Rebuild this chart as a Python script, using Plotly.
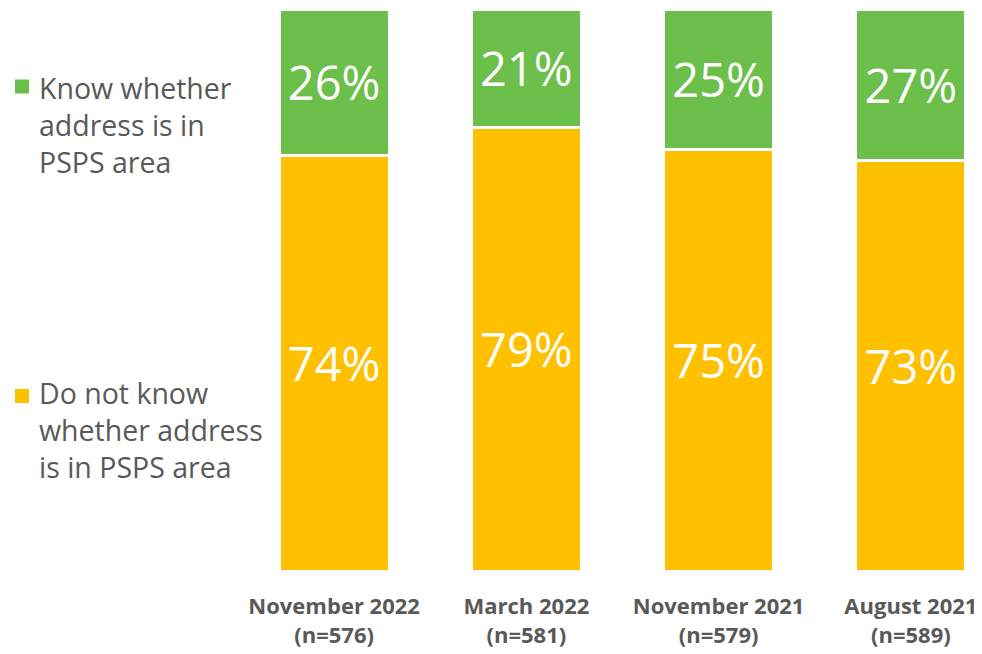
import plotly.graph_objects as go

periods = ["November 2022", "March 2022", "November 2021", "August 2021"]
sample_sizes = [576, 581, 579, 589]
do_not_know = [74, 79, 75, 73]
know = [26, 21, 25, 27]

GREEN = "#6cbf4a"
YELLOW = "#ffc000"
GREY = "#595959"
FONT = "Open Sans"

# page body has an 8px margin, so the figure is sized to end at the window edge
OFFSET = 8
W, H = 982 - OFFSET, 654 - OFFSET
ML, MR, MT, MB = 230, 0, 1, 83
PW, PH = W - ML - MR, H - MT - MB


def px_x(x):
    return (x - OFFSET - ML) / PW


def px_y(y):
    return 1 - (y - OFFSET - MT) / PH


ticktext = [f"<b>{p}<br>(n={n})</b>" for p, n in zip(periods, sample_sizes)]

fig = go.Figure()
for name, vals, color in [
    ("Do not know whether address is in PSPS area", do_not_know, YELLOW),
    ("Know whether address is in PSPS area", know, GREEN),
]:
    fig.add_trace(
        go.Bar(
            x=periods,
            y=vals,
            name=name,
            marker=dict(color=color, line=dict(color="white", width=3)),
            text=[f"{v}%" for v in vals],
            textposition="inside",
            insidetextanchor="middle",
            textfont=dict(family=FONT, size=47, color="white"),
            textangle=0,
            hoverinfo="skip",
        )
    )

# legend drawn on the left as text + swatches
legend_items = [
    ("Know whether<br>address is in<br>PSPS area", GREEN, 125, 86.5),
    ("Do not know<br>whether address<br>is in PSPS area", YELLOW, 430, 396),
]
for text, color, ytext, ysq in legend_items:
    fig.add_annotation(
        text=text, xref="paper", yref="paper", x=px_x(37),
        y=px_y(ytext), xanchor="left", yanchor="middle", align="left",
        showarrow=False, font=dict(family=FONT, size=28.5, color=GREY),
    )
    fig.add_shape(
        type="rect", xref="paper", yref="paper",
        x0=px_x(15), x1=px_x(29),
        y0=px_y(ysq + 7), y1=px_y(ysq - 7),
        fillcolor=color, line=dict(width=0),
    )

fig.update_layout(
    width=W,
    height=H,
    barmode="stack",
    bargap=0.428,
    showlegend=False,
    plot_bgcolor="white",
    paper_bgcolor="white",
    margin=dict(l=ML, r=MR, t=MT, b=MB),
    xaxis=dict(
        range=[-0.5, 3.37],
        tickmode="array",
        tickvals=periods,
        ticktext=ticktext,
        tickfont=dict(family=FONT, size=22, color=GREY),
        showgrid=False,
        zeroline=False,
        showline=False,
        ticks="",
        ticklabelstandoff=20,
    ),
    yaxis=dict(range=[0, 100], visible=False),
)

fig.write_html("out.html")
